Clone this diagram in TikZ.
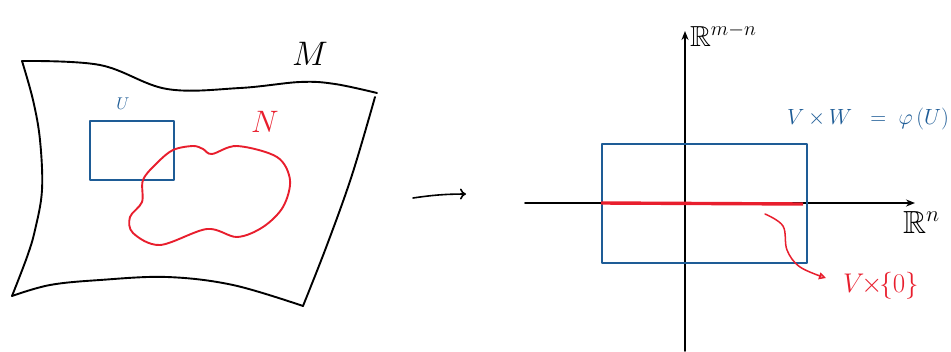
\RequirePackage{fix-cm}
\documentclass[tikz,border=0pt]{standalone}
\usepackage{amssymb}
\usetikzlibrary{arrows.meta}
\definecolor{penblue}{RGB}{30,92,150}
\definecolor{penred}{RGB}{232,30,45}
\begin{document}
\begin{tikzpicture}[x=1pt,y=-1pt,line cap=round,line join=round,
  ink/.style={line width=1.9pt,black},
  redpen/.style={line width=1.9pt,penred},
  axis/.style={line width=1.6pt,black,-{Stealth[length=9pt,width=7pt]}},
  lbl/.style={inner sep=0pt,outer sep=0pt}]
\useasboundingbox (0,0) rectangle (951,351);

% ---- manifold sheet M ----
\draw[ink] plot[smooth,tension=0.6] coordinates {(22,61) (100,65) (167,89) (240,88) (300,82) (335,84) (377,93)};
\draw[ink] plot[smooth,tension=0.6] coordinates {(375,97) (352,175) (327,245) (303,306)};
\draw[ink] plot[smooth,tension=0.6] coordinates {(12,296) (50,285) (100,280) (167,277) (233,285) (303,306)};
\draw[ink] plot[smooth,tension=0.6] coordinates {(22,61) (33,100) (40,140) (42,190) (35,230) (27,257) (12,296)};
\node[lbl,anchor=base,font=\fontsize{34}{34}\selectfont] (M) at (310,65) {$M$};

% ---- chart domain U ----
\node[draw=penblue,line width=1.5pt,minimum width=84pt,minimum height=59pt,inner sep=0pt,anchor=north west] (U) at (89,120) {};
\node[lbl,anchor=base,text=penblue,font=\fontsize{17}{17}\selectfont] (Ulab) at (123,109) {$U$};

% ---- submanifold N ----
\draw[redpen] plot[smooth cycle,tension=0.55] coordinates {(193,146) (203,149) (212,154) (237,146) (277,157) (290,180) (283,207) (263,227) (237,237) (207,229) (160,245) (133,233) (130,217) (142,202) (143,180) (157,163) (173,150)};
\node[lbl,anchor=base,text=penred,font=\fontsize{31}{31}\selectfont] (N) at (265,132) {$N$};

% ---- map arrow ----
\coordinate (ma) at (413,198);
\coordinate (mb) at (466,194);
\draw[line width=1.6pt,-{To[length=6pt,width=11pt]}] (ma) to[bend left=4] (mb);

% ---- axes ----
\coordinate (vb) at (685,351);
\coordinate (vt) at (685,31);
\coordinate (hl) at (525,203);
\coordinate (hr) at (915,203);
\draw[axis] (vb) -- (vt);
\draw[axis] (hl) -- (hr);
\node[lbl,anchor=base west,font=\fontsize{29}{29}\selectfont] (Rmn) at (690,46) {$\mathbb{R}^{m-n}$};
\node[lbl,anchor=base west,font=\fontsize{32}{32}\selectfont] (Rn) at (903,233) {$\mathbb{R}^{n}$};

% ---- image rectangle V x W ----
\node[draw=penblue,line width=1.5pt,minimum width=205pt,minimum height=119pt,inner sep=0pt,anchor=north west] (VW) at (601,143) {};
\node[lbl,anchor=base west,text=penblue,font=\fontsize{22}{22}\selectfont] (VWlab) at (787,124) {$V\,{\times}\,W\;\;=\;\varphi\,(U)$};

% ---- V x {0} ----
\coordinate (sl) at (601,203);
\coordinate (sr) at (803,204);
\draw[penred,line width=3.4pt,line cap=butt] (sl) -- (sr);
\node[lbl,anchor=base west,text=penred,font=\fontsize{27}{27}\selectfont] (V0) at (843,292) {$V\!\!\times\!\!\{0\}$};
\coordinate (cs) at (765,214);
\draw[redpen,line width=1.5pt,-{Triangle[open,length=7pt,width=7pt]}] plot[smooth,tension=0.6] coordinates {(cs) (783,226) (787,250) (800,267) (826,278)};
\end{tikzpicture}
\end{document}
